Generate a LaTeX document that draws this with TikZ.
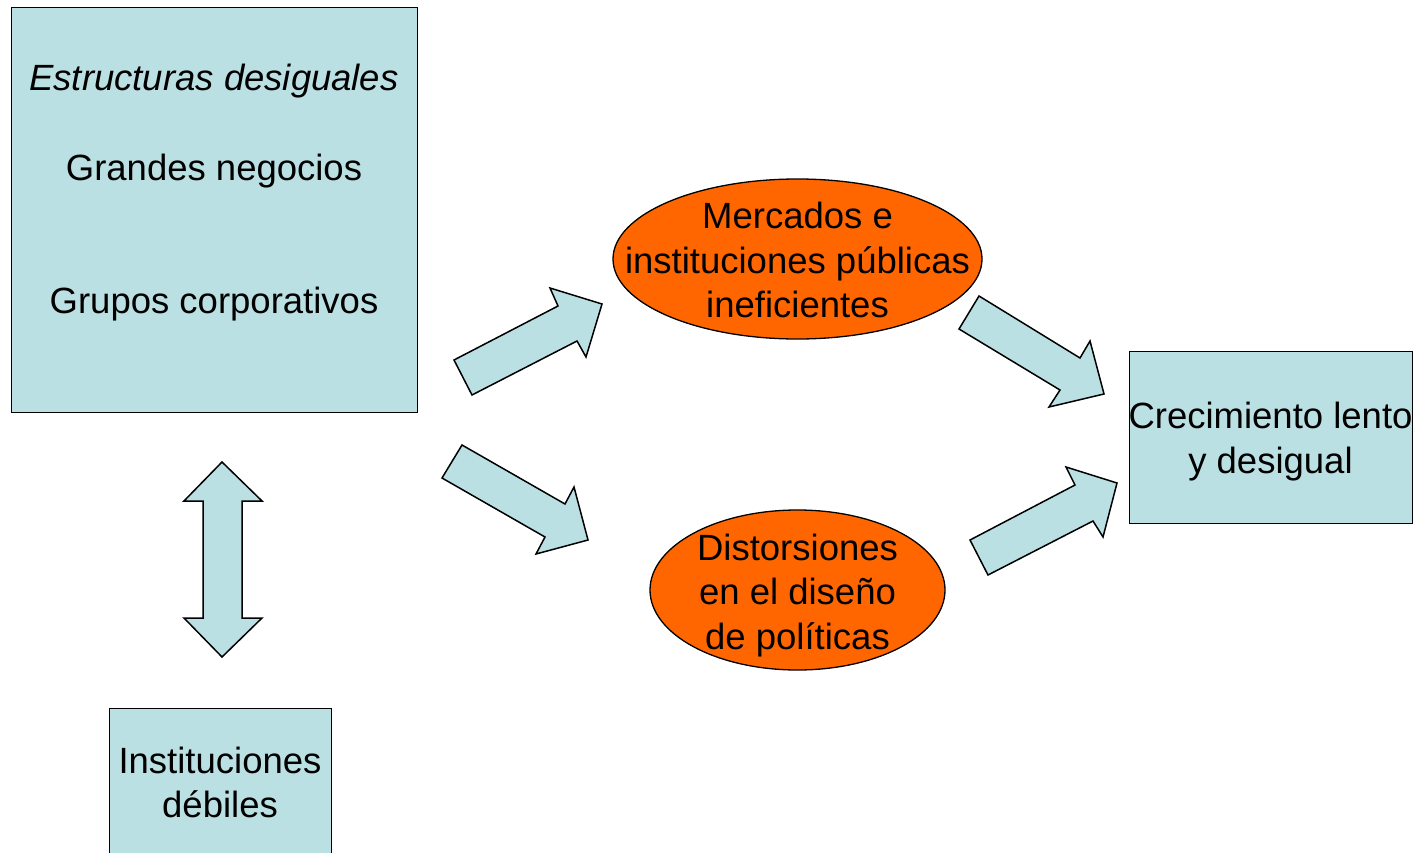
\documentclass[tikz,border=0pt]{standalone}
\usepackage{fontspec}
\setmainfont{Liberation Sans}
\usetikzlibrary{shapes.geometric}
\definecolor{lblue}{HTML}{BBE0E3}
\definecolor{orng}{HTML}{FF6600}
\begin{document}
\begin{tikzpicture}[x=1pt,y=-1pt,
  box/.style={draw=black,fill=lblue,line width=1.3pt},
  oval/.style={ellipse,draw=black,fill=orng,line width=1.3pt,inner sep=0pt},
  blk/.style={draw=black,fill=lblue,line width=1.5pt,line join=miter},
  txt/.style={font=\fontsize{36.5}{44.5}\selectfont,align=center,inner sep=0pt,text=black}]
\useasboundingbox (0,0) rectangle (1420,853);
\fill[white] (0,0) rectangle (1420,853);
% boxes
\node[box,minimum width=406,minimum height=405,anchor=north west] (es) at (11,7) {};
\node[box,minimum width=283,minimum height=172,anchor=north west] (cr) at (1129,351) {};
\node[box,minimum width=222,minimum height=170,anchor=north west] (in) at (109,708) {};
% ellipses
\node[oval,minimum width=369,minimum height=160] (me) at (797.5,259) {};
\node[oval,minimum width=295,minimum height=160] (di) at (797.5,590) {};
% texts
\node[txt,anchor=base] (t1) at (214,91) {\itshape Estructuras desiguales};
\node[txt,anchor=base] (t2) at (214,180) {Grandes negocios};
\node[txt,anchor=base] (t3) at (214,313) {Grupos corporativos};
\node[txt] (tme) at (797.5,260.2) {Mercados e\\instituciones públicas\\ineficientes};
\node[txt] (tdi) at (797.5,595.5) {Distorsiones\\en el diseño\\de políticas};
\node[txt] (tcr) at (1270.5,441.5) {Crecimiento lento\\y desigual};
\node[txt] (tin) at (220,782.2) {Instituciones\\débiles};
% block arrows
\draw[blk] (454,360) -- (472,395) -- (577,341) -- (586,357) -- (602,304) -- (550,288) -- (558,306) -- cycle;
\draw[blk] (462,445) -- (442,478) -- (545,537) -- (536,554) -- (588,540) -- (574,487) -- (565,504) -- cycle;
\draw[blk] (979,296) -- (959,329) -- (1060,390) -- (1049,407) -- (1104,394) -- (1090,341) -- (1080,358) -- cycle;
\draw[blk] (970,540) -- (988,575) -- (1093,521) -- (1103,537) -- (1117,483) -- (1066,467) -- (1075,485) -- cycle;
\draw[blk] (222,462) -- (262,501) -- (242,501) -- (242,618) -- (262,618) -- (222,657) -- (184,618) -- (203,618) -- (203,501) -- (184,501) -- cycle;
\end{tikzpicture}
\end{document}
